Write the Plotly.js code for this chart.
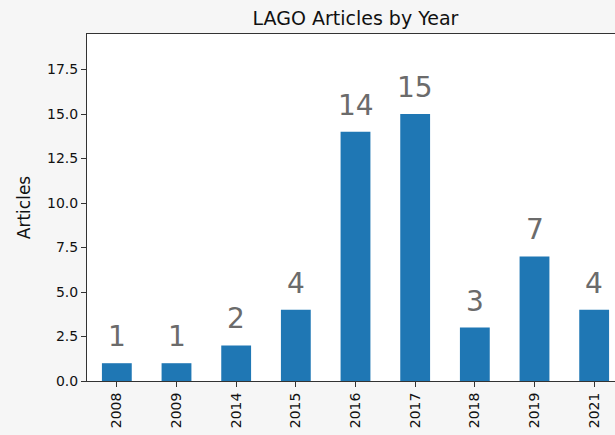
<!DOCTYPE html>
<html>
<head>
<meta charset="utf-8">
<script src="https://cdn.plot.ly/plotly-3.0.1.min.js"></script>
<style>
html,body{margin:0;padding:0;overflow:hidden;background:#f6f6f6;}
#chart{width:640px;height:435px;}
</style>
</head>
<body>
<div id="chart"></div>
<script>
const years = ['2008','2009','2014','2015','2016','2017','2018','2019','2021'];
const articles = [1, 1, 2, 4, 14, 15, 3, 7, 4];
const yTicks = [0, 2.5, 5, 7.5, 10, 12.5, 15, 17.5];

const font = 'DejaVu Sans, sans-serif';

const trace = {
  type: 'bar',
  x: years,
  y: articles,
  width: 0.5,
  marker: {color: '#1f77b4', line: {width: 0}},
  hoverinfo: 'none'
};

const annotations = years.map((yr, i) => ({
  x: i,
  y: articles[i],
  xref: 'x',
  yref: 'y',
  text: String(articles[i]),
  showarrow: false,
  yanchor: 'bottom',
  yshift: 8,
  font: {family: font, size: 28, color: '#6b6b6b'}
}));

const layout = {
  width: 640,
  height: 435,
  margin: {l: 87, r: 16, t: 34, b: 54},
  paper_bgcolor: '#f6f6f6',
  plot_bgcolor: '#ffffff',
  font: {family: font, color: '#111'},
  title: {text: 'LAGO Articles by Year', font: {family: font, size: 19, color: '#111'}, x: 0.5, xanchor: 'center', xref: 'paper', y: 0.958, yanchor: 'middle'},
  showlegend: false,
  bargap: 0.5,
  xaxis: {
    type: 'category',
    categoryorder: 'array',
    categoryarray: years,
    range: [-0.5, 8.5],
    showline: true, linecolor: '#333', linewidth: 1, mirror: true,
    ticks: 'outside', ticklen: 5, tickcolor: '#333', tickwidth: 1,
    tickangle: -90,
    tickfont: {family: font, size: 14, color: '#111'},
    showgrid: false, zeroline: false
  },
  yaxis: {
    range: [0, 19.5],
    tickvals: yTicks,
    ticktext: yTicks.map(v => v.toFixed(1)),
    showline: true, linecolor: '#333', linewidth: 1, mirror: true,
    ticks: 'outside', ticklen: 5, tickcolor: '#333', tickwidth: 1,
    tickfont: {family: font, size: 14, color: '#111'},
    title: {text: 'Articles', font: {family: font, size: 17, color: '#111'}, standoff: 12},
    showgrid: false, zeroline: false
  },
  annotations: annotations
};

Plotly.newPlot('chart', [trace], layout, {staticPlot: true, displayModeBar: false});
</script>
</body>
</html>
